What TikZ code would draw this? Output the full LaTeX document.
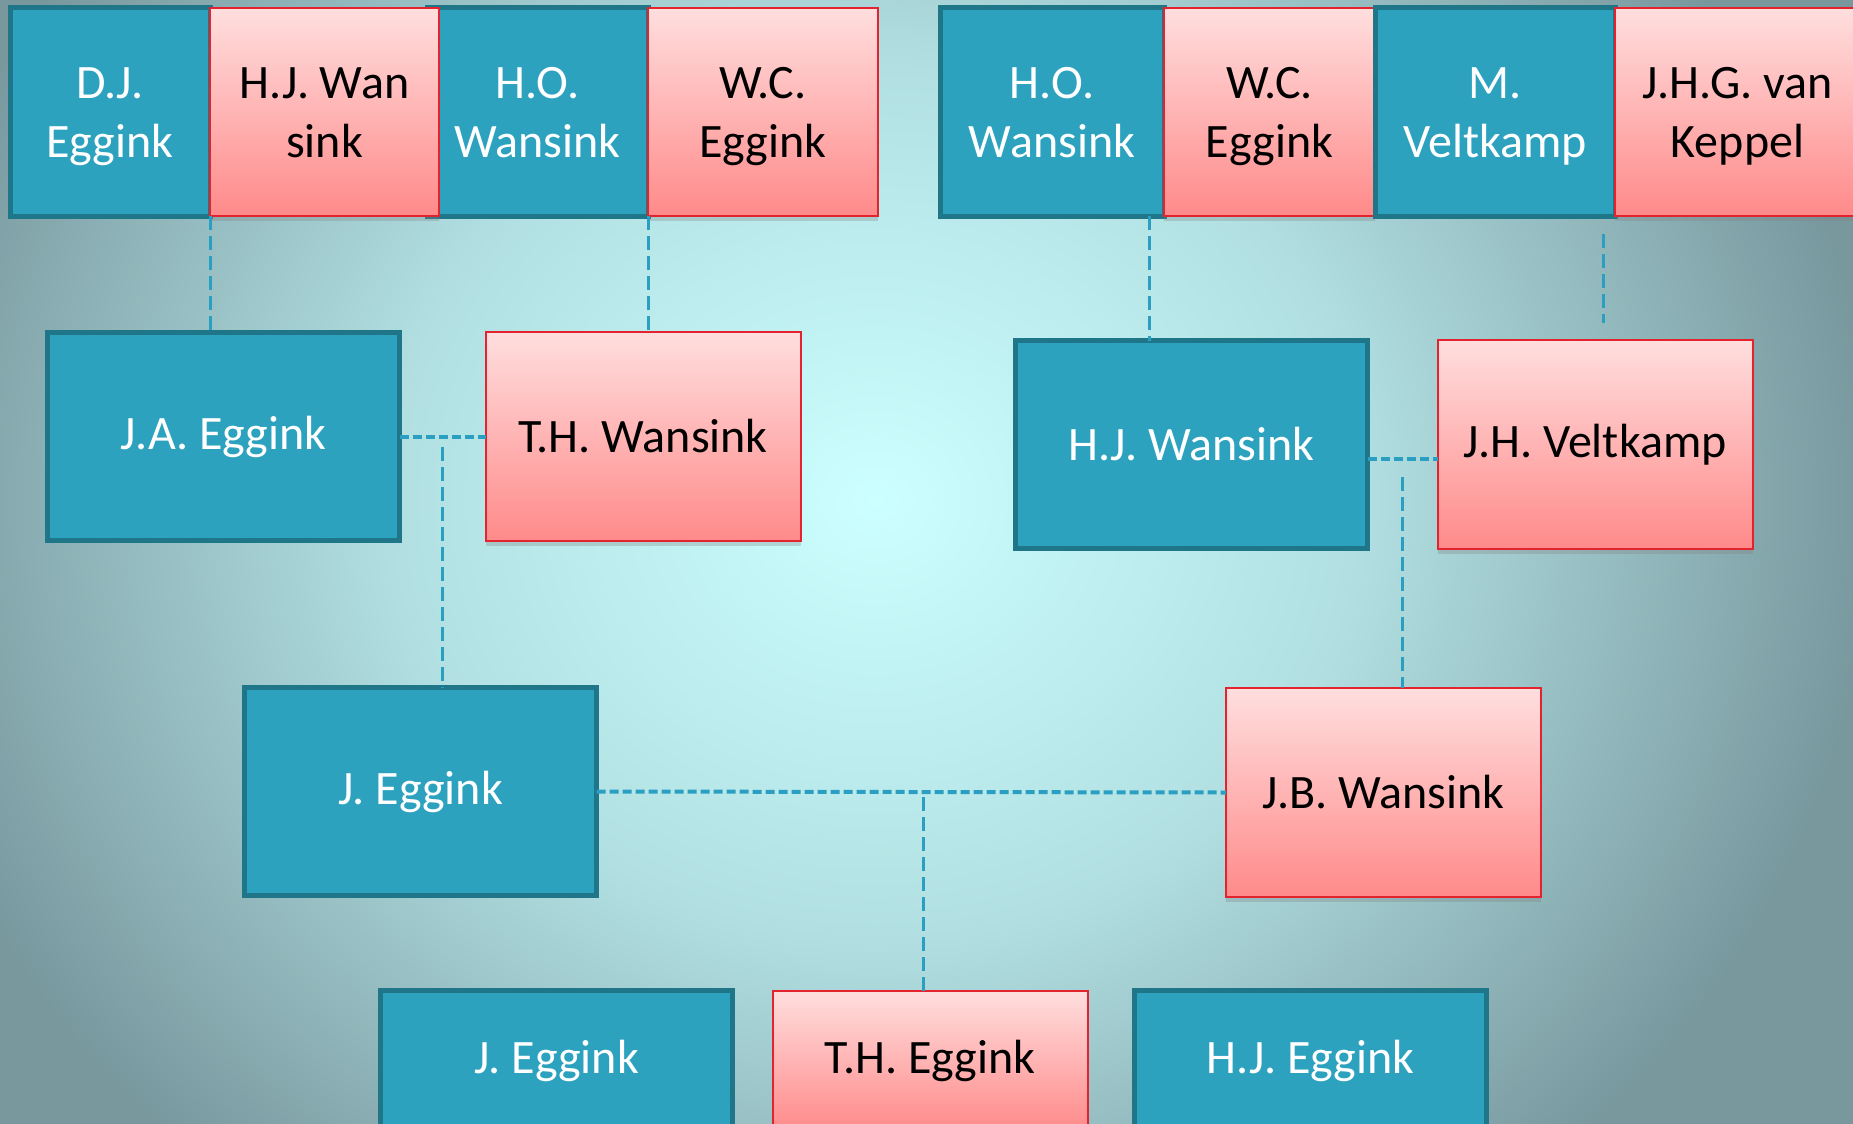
\documentclass[tikz,border=0pt]{standalone}
\usepackage{fontspec}
\setmainfont{Carlito}
\usetikzlibrary{positioning, shadows, calc}
\definecolor{manFill}{HTML}{2CA2BF}
\definecolor{manLine}{HTML}{1F7689}
\definecolor{womanTop}{HTML}{FFDEDE}
\definecolor{womanBot}{HTML}{FF8A8A}
\definecolor{womanLine}{HTML}{E3242E}
\definecolor{linkBlue}{HTML}{2A9FC2}
\definecolor{bgLight}{HTML}{CCFFFF}
\definecolor{bgMid}{HTML}{B2E0E2}
\definecolor{bgDark}{HTML}{78989E}
\pgfdeclareradialshading{bgGlow}{\pgfpoint{0bp}{0bp}}{color(0bp)=(bgLight); color(12bp)=(bgMid); color(25bp)=(bgDark); color(50bp)=(bgDark)}
\newcommand{\tallStrut}{\rule{0pt}{50pt}}
\begin{document}
\begin{tikzpicture}[x=1pt, y=-1pt,
              manBox/.style={
                draw=manLine, line width=5pt, fill=manFill, text=white,
                inner sep=0pt, outer sep=0pt, align=center, anchor=north west,
                minimum height=208pt, minimum width=352pt,
                font=\fontsize{48}{59}\selectfont
             },
              womanBox/.style={
                draw=womanLine, line width=2pt, top color=womanTop, bottom color=womanBot,
                text=black, inner sep=0pt, outer sep=0pt, align=center, anchor=north west,
                minimum height=209pt, minimum width=315pt,
                drop shadow={shadow xshift=0pt, shadow yshift=-5pt, opacity=.3},
                font=\fontsize{48}{59}\selectfont
             },
              parentLink/.style={draw=linkBlue, line width=3pt, dash pattern=on 14pt off 6pt},
              marriageLink/.style={draw=linkBlue, line width=4pt, dash pattern=on 9pt off 4pt}
            ]
              \useasboundingbox (0,0) rectangle (1853,1124);
              \clip (0,0) rectangle (1853,1124);
              \shade[shading=bgGlow] (-125,-400) rectangle (1875,1400);
              % grandparents
              \node[manBox, minimum width=200pt] at (10,8) (dj){D.J.\tallStrut\\Eggink\strut};
              \node[manBox, minimum width=221pt] at (427,8) (how){H.O.\tallStrut\\Wansink\strut};
              \node[womanBox, minimum width=229pt, minimum height=208pt, anchor=west, right=0pt of dj] (hjw){H.J. Wan\tallStrut\\sink\strut};
              \node[womanBox, minimum width=230pt, minimum height=208pt, anchor=west, right=0pt of how] (wce){W.C.\tallStrut\\Eggink\strut};
              \node[manBox, minimum width=224pt] at (940,8) (howr){H.O.\tallStrut\\Wansink\strut};
              \node[womanBox, minimum width=211pt, minimum height=208pt, anchor=west, right=0pt of howr] (wcer){W.C.\tallStrut\\Eggink\strut};
              \node[manBox, minimum width=240pt, anchor=west, right=0pt of wcer] (mv){M.\tallStrut\\Veltkamp\strut};
              \node[womanBox, minimum width=245pt, minimum height=208pt, anchor=west, right=0pt of mv] (jhg){J.H.G. van\tallStrut\\Keppel\strut};
              % parents
              \node[manBox] at (47.5,332.5) (ja){J.A. Eggink};
              \node[womanBox, anchor=west, right=86pt of ja] (thw){T.H. Wansink};
              \node[manBox] at (1015.5,340.5) (hjwr){H.J. Wansink};
              \node[womanBox, anchor=west, right=70pt of hjwr] (hjv){J.H. Veltkamp};
              \node[manBox] at (244.5,687.5) (je){J. Eggink};
              \node[womanBox] at (1226,688) (jbw){J.B. Wansink};
              % children
              \node[manBox, minimum height=140pt] at (380.5,990.5) (jek){J. Eggink};
              \node[womanBox, minimum height=140pt, anchor=west, right=40pt of jek] (the){T.H. Eggink};
              \node[manBox, minimum height=140pt, anchor=west, right=47pt of the] (hje){H.J. Eggink};
              % links
              \draw[parentLink] (dj.south east) -- (dj.south east |- ja.north);
              \draw[parentLink] (wce.south west) -- (wce.south west |- thw.north);
              \draw[parentLink] ([xshift=-15pt]howr.south east) -- ([xshift=-15pt]howr.south east |- hjwr.north);
              \draw[parentLink] ([xshift=-12pt, yshift=-18pt]mv.south east) -- ++(0,89);
              \draw[marriageLink] (ja.east) -- (thw.west);
              \coordinate (jaKids) at ($(ja.east)!.5!(thw.west)+(0,10)$);
              \draw[parentLink] (jaKids) -- (jaKids |- je.north);
              \draw[marriageLink] ([yshift=-14pt]hjwr.east) -- ([yshift=-14pt]hjv.west);
              \coordinate (hjKids) at ($(hjwr.east)!.5!(hjv.west)+(0,32)$);
              \draw[parentLink] (hjKids) -- (hjKids |- jbw.north);
              \draw[marriageLink] (je.east) -- (jbw.west);
              \draw[parentLink] ([xshift=-7pt]the.north) -- ([xshift=-7pt]the.north |- je.east);
            \end{tikzpicture}
\end{document}
